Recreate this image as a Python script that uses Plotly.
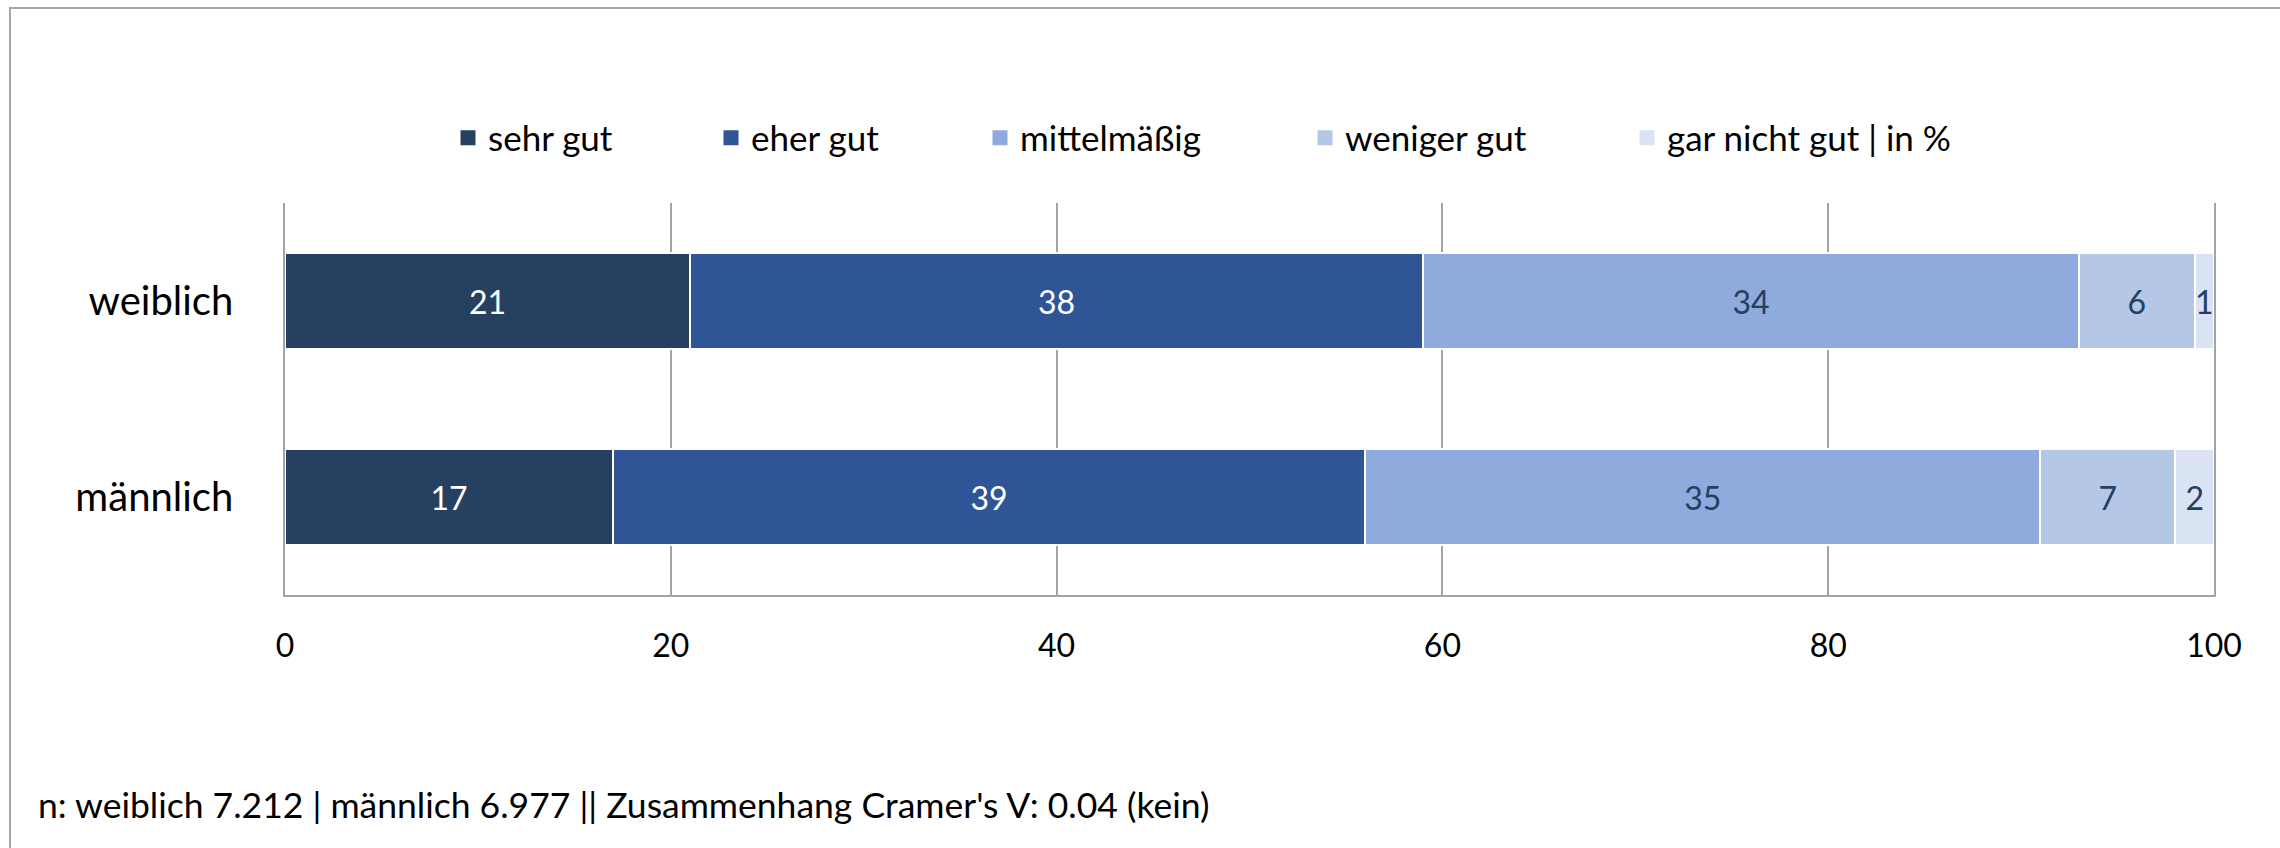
import plotly.graph_objects as go

categories = ["weiblich", "männlich"]
series_names = ["sehr gut", "eher gut", "mittelmäßig", "weniger gut", "gar nicht gut | in %"]
sehr_gut = [21, 17]
eher_gut = [38, 39]
mittelmaessig = [34, 35]
weniger_gut = [6, 7]
gar_nicht_gut = [1, 2]
series_values = [sehr_gut, eher_gut, mittelmaessig, weniger_gut, gar_nicht_gut]
x_ticks = [0, 20, 40, 60, 80, 100]
footnote = "n: weiblich 7.212 | männlich 6.977 || Zusammenhang Cramer's V: 0.04 (kein)"

colors = ["#264061", "#2F5597", "#8FAADC", "#B4C7E7", "#DAE3F3"]
label_colors = ["#FFFFFF", "#FFFFFF", "#243F60", "#243F60", "#243F60"]
FONT = "Lato"
W, H = 2280, 848
L, R, T, B = 285, 66, 203, 253

legend_centers = [473, 736, 1005, 1330, 1652]
legend_keys = ["legend", "legend2", "legend3", "legend4", "legend5"]

fig = go.Figure()
for i, (name, vals) in enumerate(zip(series_names, series_values)):
    fig.add_trace(go.Bar(
        y=categories, x=vals, orientation="h", name=name,
        marker=dict(color=colors[i], line=dict(color="#FFFFFF", width=2)),
        text=[str(v) for v in vals], textposition="inside",
        insidetextanchor="middle", constraintext="none",
        textfont=dict(family=FONT, size=32, color=label_colors[i]),
        showlegend=False, hoverinfo="x+y+name",
    ))
# legend entries (square swatches)
for i, name in enumerate(series_names):
    fig.add_trace(go.Scatter(
        x=[None], y=[None], mode="markers", name=name,
        marker=dict(symbol="square", size=15, color=colors[i]),
        legend=legend_keys[i], showlegend=True, hoverinfo="skip",
    ))

layout_legends = {}
for i, key in enumerate(legend_keys):
    layout_legends[key] = dict(
        x=(legend_centers[i] - 25) / W, xref="container", xanchor="left",
        y=1 - 138 / H, yref="container", yanchor="middle",
        orientation="h", bgcolor="rgba(0,0,0,0)",
        font=dict(family=FONT, size=35, color="#000000"),
    )

pw = W - L - R
ph = H - T - B
def px_x(p):
    return (p - L) / pw
def px_y(p):
    return (H - B - p) / ph

fig.update_layout(
    width=W, height=H, autosize=False, showlegend=True,
    margin=dict(l=L, r=R, t=T, b=B, pad=0),
    paper_bgcolor="#FFFFFF", plot_bgcolor="#FFFFFF",
    barmode="stack", bargap=0.515,
    font=dict(family=FONT, color="#000000"),
    xaxis=dict(range=[0, 100], tickvals=x_ticks, ticktext=[str(t) for t in x_ticks],
               showgrid=True, gridcolor="#A3A3A3", gridwidth=1.5, automargin=False,
               zeroline=False, showline=True, linecolor="#A3A3A3", linewidth=2,
               ticks="", ticklabelstandoff=22,
               tickfont=dict(family=FONT, size=32, color="#000000"), fixedrange=True),
    yaxis=dict(categoryorder="array", categoryarray=categories, autorange="reversed",
               showgrid=False, zeroline=False, showline=True, mirror=True, automargin=False,
               linecolor="#A3A3A3", linewidth=1.5, ticks="", ticklabelstandoff=42,
               tickfont=dict(family=FONT, size=40, color="#000000"), fixedrange=True),
    **layout_legends,
)

# outer frame (left and top edges visible)
fig.add_shape(type="path", xref="paper", yref="paper",
              path=f"M {px_x(10)} {px_y(H + 5)} L {px_x(10)} {px_y(8)} L {px_x(W + 5)} {px_y(8)}",
              line=dict(color="#A6A6A6", width=2), layer="above")

fig.add_annotation(text=footnote, xref="paper", yref="paper",
                   x=px_x(36), y=px_y(804), xanchor="left", yanchor="middle",
                   showarrow=False, font=dict(family=FONT, size=35.5, color="#000000"))

fig.write_html("out.html", config={"displayModeBar": False},
               post_script="document.body.style.margin='0';document.body.style.overflow='hidden';")
